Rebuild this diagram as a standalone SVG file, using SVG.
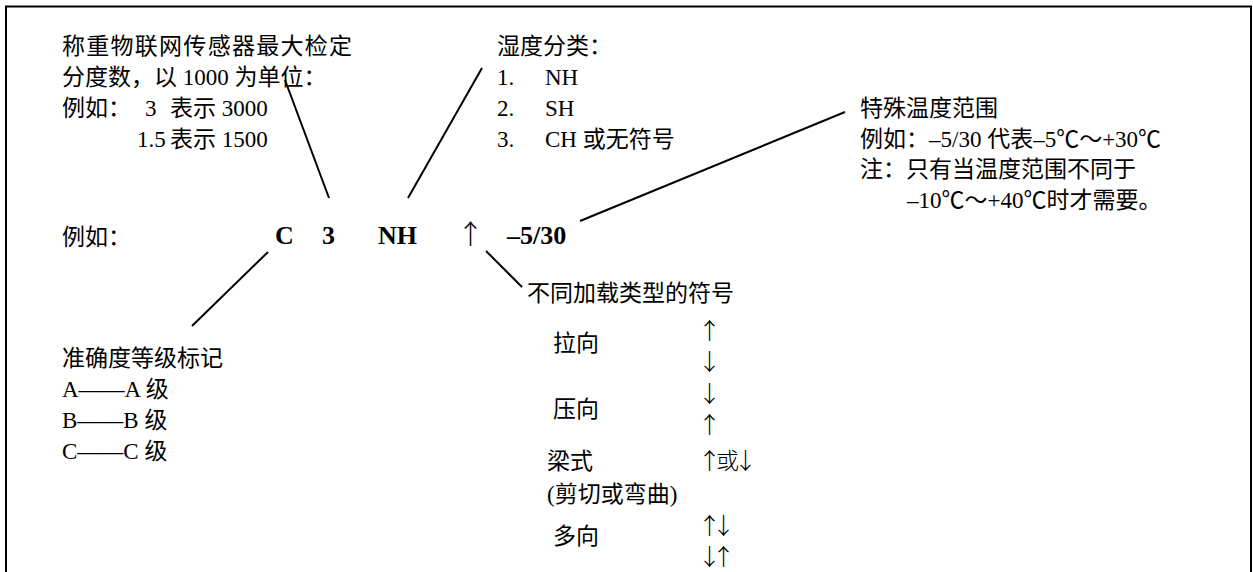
<svg xmlns="http://www.w3.org/2000/svg" width="1253" height="572" viewBox="0 0 1253 572">
<style>
text{font-family:"Liberation Serif","Noto Sans CJK SC",serif;font-size:23px;fill:#000}
.b{font-weight:bold;font-size:26px}
.ar{font-family:"Noto Sans CJK SC",sans-serif;font-size:23px;font-weight:300}
.pr{letter-spacing:-9px}
.ln{stroke:#000;stroke-width:2;fill:none}
</style>
<rect x="0" y="0" width="1253" height="572" fill="#fff"/>
<path class="ln" d="M6,572 V6.5 H1251 V572"/>
<g id="connectors">
<line class="ln" x1="285" y1="80" x2="329" y2="198"/>
<line class="ln" x1="482" y1="68" x2="408" y2="198"/>
<line class="ln" x1="845" y1="112" x2="580" y2="221"/>
<line class="ln" x1="268" y1="252" x2="192" y2="326"/>
<line class="ln" x1="486" y1="251" x2="522" y2="287"/>
</g>
<g id="max-division">
<text x="62" y="54" textLength="290" lengthAdjust="spacing">称重物联网传感器最大检定</text>
<text x="62" y="85">分度数，以 1000 为单位：</text>
<text x="62" y="116">例如：</text><text x="145" y="116">3</text><text x="170" y="116">表示 3000</text>
<text x="137" y="147">1.5</text><text x="170" y="147">表示 1500</text>
</g>
<g id="humidity">
<text x="497" y="54">湿度分类：</text>
<text x="497" y="85">1.</text><text x="545" y="85">NH</text>
<text x="497" y="116">2.</text><text x="545" y="116">SH</text>
<text x="497" y="147">3.</text><text x="545" y="147">CH 或无符号</text>
</g>
<g id="temperature">
<text x="860" y="116">特殊温度范围</text>
<text x="860" y="147">例如：–5/30 代表–5℃～+30℃</text>
<text x="860" y="177">注：只有当温度范围不同于</text>
<text x="907" y="208">–10℃～+40℃时才需要。</text>
</g>
<g id="example">
<text x="62" y="245">例如：</text>
<text class="b" x="275" y="244">C</text>
<text class="b" x="322" y="244">3</text>
<text class="b" x="378" y="244">NH</text>
<text class="ar" x="457" y="244" style="font-size:27px">↑</text>
<text class="b" x="507" y="244">–5/30</text>
</g>
<g id="load-type">
<text x="527" y="301">不同加载类型的符号</text>
<text x="553" y="351">拉向</text>
<text class="ar" x="698" y="339">↑</text>
<text class="ar" x="698" y="370">↓</text>
<text x="553" y="417">压向</text>
<text class="ar" x="698" y="402">↓</text>
<text class="ar" x="698" y="433">↑</text>
<text x="547" y="469">梁式</text>
<text class="ar" x="698" y="469" style="letter-spacing:-5px">↑或↓</text>
<text x="547" y="502">(剪切或弯曲)</text>
<text class="ar pr" x="698" y="534">↑↓</text>
<text x="553" y="544">多向</text>
<text class="ar pr" x="698" y="565">↓↑</text>
</g>
<g id="accuracy">
<text x="62" y="366">准确度等级标记</text>
<text x="62" y="397">A——A 级</text>
<text x="62" y="428">B——B 级</text>
<text x="62" y="459">C——C 级</text>
</g>
</svg>
